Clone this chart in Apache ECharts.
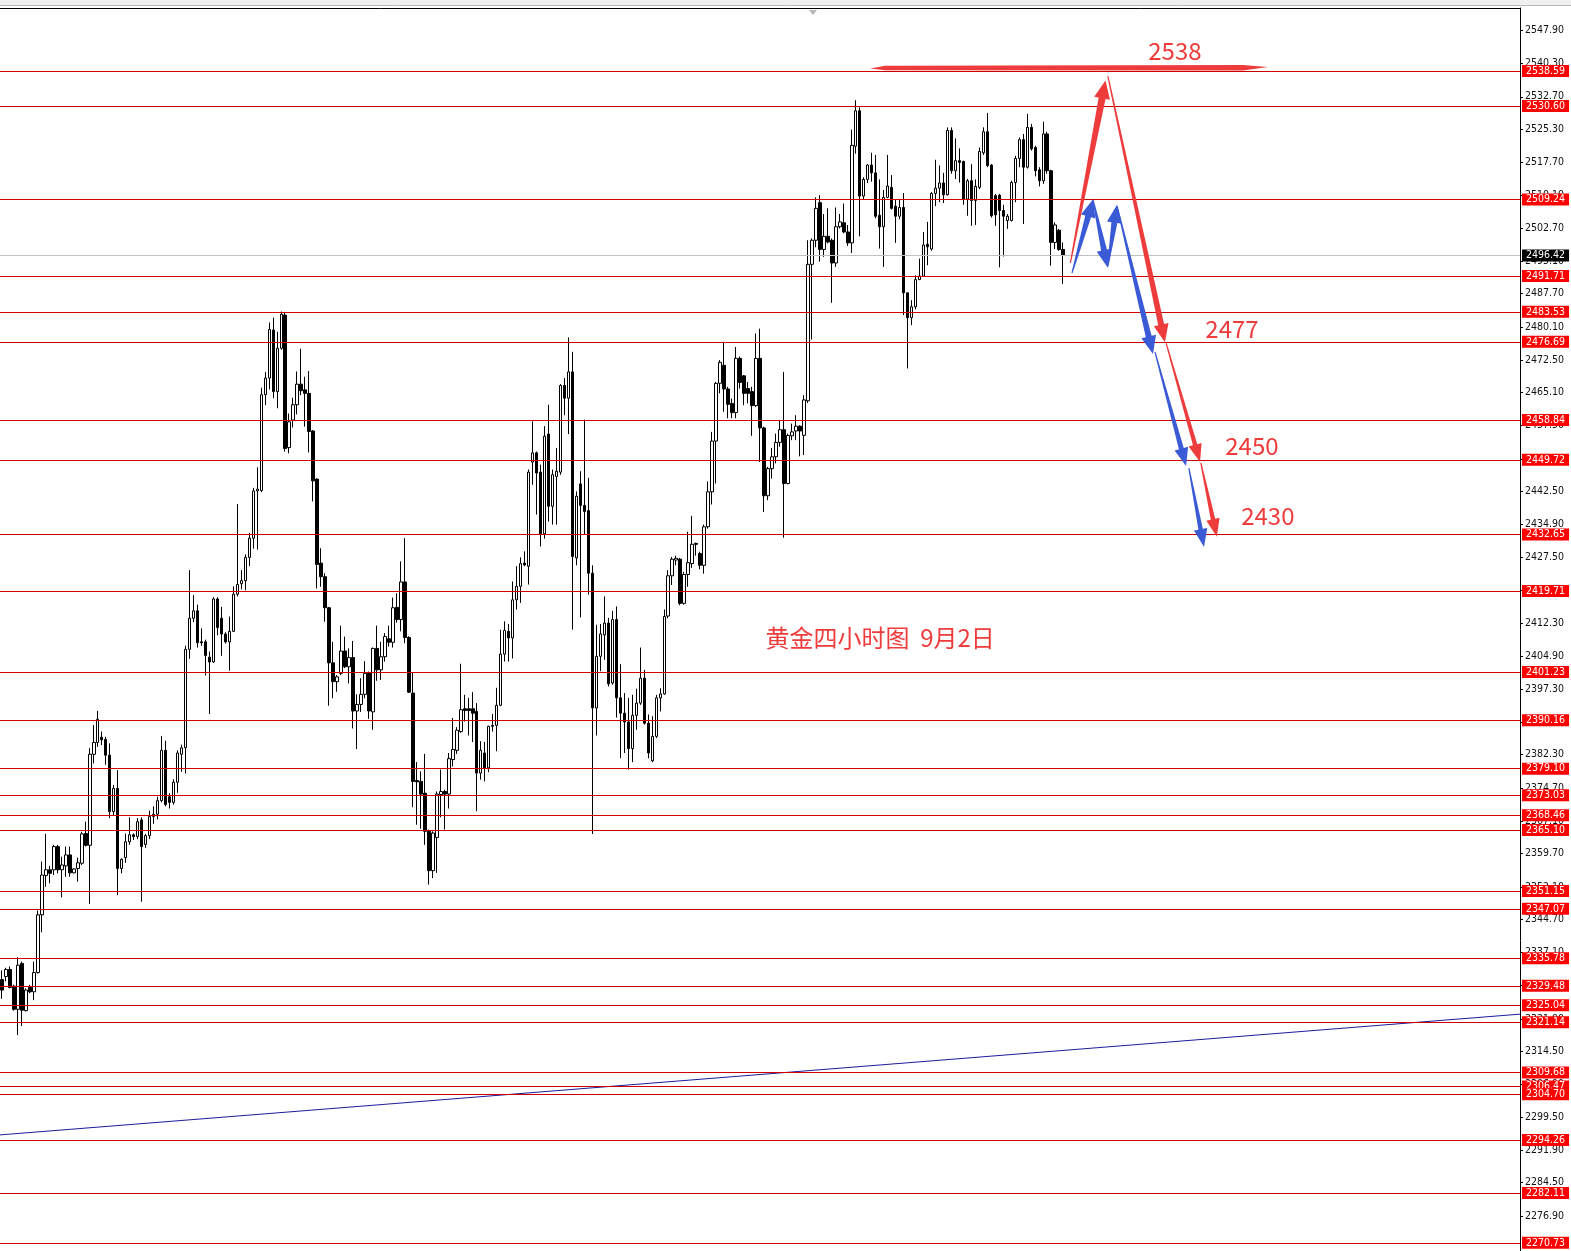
<!DOCTYPE html>
<html>
<head>
<meta charset="utf-8">
<script src="https://cdn.jsdelivr.net/npm/echarts@6/dist/echarts.min.js"></script>
<style>
html,body{margin:0;padding:0;background:#fff;}
#chart{width:1571px;height:1251px;}
</style>
</head>
<body>
<div id="chart"></div>
<script>
// ---- candle data (4-hour gold) ----
const opens = [
2330.9,2331.6,2333.2,2329.4,2324.1,2334.6,2323.8,2329.1,2328.1,2332.5,
2345.7,2354.7,2356.0,2356.0,2361.3,2356.0,2356.9,2359.4,2355.3,2356.3,
2357.5,2364.3,2361.6,2382.4,2385.1,2386.3,2385.8,2382.2,2369.3,2374.6,
2356.3,2358.8,2362.4,2364.0,2363.6,2367.4,2361.8,2363.8,2368.2,2368.7,
2371.8,2383.3,2372.7,2371.4,2376.0,2382.4,2383.9,2406.4,2413.5,2415.2,
2408.1,2408.1,2404.6,2403.5,2417.9,2413.5,2409.9,2408.1,2410.5,2419.0,
2421.4,2422.1,2427.4,2431.8,2442.6,2442.7,2464.6,2468.4,2479.4,2465.3,
2475.2,2482.8,2452.5,2458.8,2462.3,2467.0,2465.7,2464.9,2456.3,2445.3,
2426.1,2423.0,2415.9,2403.3,2399.0,2400.9,2406.0,2402.4,2404.5,2392.3,
2393.8,2396.1,2400.9,2392.1,2406.6,2401.7,2404.7,2408.8,2408.0,2416.0,
2413.2,2421.8,2409.1,2396.4,2376.4,2376.2,2373.5,2364.8,2355.8,2363.4,
2373.2,2373.9,2373.3,2381.2,2383.3,2387.6,2392.8,2392.8,2392.8,2392.2,
2378.1,2382.7,2379.3,2389.0,2389.0,2393.6,2405.3,2410.5,2409.0,2417.7,
2420.8,2426.1,2425.4,2449.2,2451.3,2446.9,2432.8,2455.6,2439.1,2445.9,
2446.9,2466.7,2463.8,2469.8,2427.3,2444.2,2439.3,2438.1,2423.8,2393.0,
2404.8,2409.7,2412.4,2398.7,2413.2,2395.3,2391.8,2389.8,2383.7,2391.3,
2394.1,2399.8,2389.5,2380.9,2386.5,2395.3,2396.2,2414.0,2423.2,2426.8,
2427.0,2416.9,2423.5,2426.0,2430.6,2428.3,2425.6,2434.4,2442.4,2454.0,
2467.2,2471.3,2465.9,2462.6,2460.5,2472.9,2468.9,2466.0,2465.3,2462.1,
2472.9,2457.0,2441.5,2447.7,2450.4,2453.7,2456.6,2444.3,2455.2,2456.3,
2457.4,2455.3,2463.2,2494.4,2499.9,2508.5,2497.8,2500.8,2499.9,2494.7,
2503.0,2503.9,2501.8,2499.3,2521.4,2529.5,2510.0,2513.8,2517.1,2515.3,
2505.6,2503.0,2509.7,2512.0,2507.7,2505.4,2507.4,2487.9,2482.2,2484.7,
2490.9,2491.7,2499.0,2497.9,2510.6,2511.8,2513.0,2510.3,2525.0,2515.8,
2518.1,2517.9,2509.3,2513.5,2509.0,2512.0,2519.9,2524.7,2517.1,2510.1,
2510.2,2506.7,2504.4,2504.4,2513.1,2518.6,2522.9,2516.6,2525.7,2521.1,
2516.0,2513.5,2524.2,2515.8,2499.4,2502.2,2497.8
];
const highs = [
2333.0,2333.6,2333.9,2329.7,2336.0,2335.0,2328.9,2329.7,2335.0,2346.7,
2357.9,2364.2,2356.9,2361.7,2361.7,2359.0,2361.3,2361.3,2356.3,2358.8,
2364.7,2367.0,2383.8,2389.1,2392.3,2387.6,2386.4,2384.9,2375.4,2378.8,
2358.6,2364.3,2368.0,2364.3,2367.8,2368.0,2364.2,2369.5,2370.5,2372.7,
2386.6,2385.5,2373.5,2376.7,2383.3,2384.6,2407.2,2424.5,2418.8,2416.6,
2411.2,2408.6,2405.9,2418.3,2418.3,2416.1,2410.3,2413.9,2420.8,2439.6,
2424.5,2428.1,2433.0,2443.3,2448.0,2466.2,2469.8,2481.1,2482.2,2479.0,
2483.6,2483.4,2460.3,2463.9,2469.9,2475.1,2468.7,2470.0,2456.5,2445.5,
2429.5,2423.8,2416.1,2408.1,2400.5,2411.8,2409.3,2406.6,2408.3,2396.1,
2399.8,2403.7,2401.3,2406.8,2411.8,2408.1,2410.1,2411.8,2418.2,2419.2,
2426.5,2431.8,2409.4,2401.0,2380.6,2378.5,2382.5,2365.2,2364.8,2373.9,
2378.9,2374.3,2382.7,2390.7,2388.6,2403.1,2396.0,2395.3,2396.6,2394.1,
2385.4,2385.2,2388.9,2391.6,2397.6,2410.9,2412.8,2412.2,2421.9,2425.4,
2427.4,2428.8,2447.5,2458.5,2451.6,2448.6,2457.4,2462.3,2447.5,2452.4,
2467.0,2468.4,2477.7,2474.4,2442.5,2447.1,2458.9,2445.6,2425.6,2412.0,
2412.2,2418.5,2413.6,2415.2,2416.2,2403.0,2396.4,2395.3,2396.0,2397.4,
2406.8,2401.7,2391.5,2391.1,2396.0,2397.5,2415.5,2424.5,2427.5,2427.8,
2427.3,2424.1,2433.3,2436.9,2430.8,2428.7,2434.9,2444.8,2456.1,2467.5,
2472.5,2476.7,2466.4,2463.7,2475.5,2473.3,2469.1,2467.5,2466.4,2478.6,
2479.7,2457.3,2448.1,2452.4,2455.7,2458.8,2469.8,2455.7,2458.0,2459.9,
2457.6,2464.5,2499.9,2500.3,2509.7,2510.2,2505.9,2507.2,2500.3,2507.4,
2505.9,2508.3,2503.4,2525.2,2531.9,2530.3,2514.3,2517.3,2519.9,2519.4,
2513.8,2511.4,2519.4,2514.8,2509.2,2509.2,2510.7,2487.9,2486.2,2491.9,
2495.7,2501.8,2504.1,2510.9,2518.3,2517.0,2515.3,2525.7,2525.7,2523.2,
2520.9,2518.1,2513.9,2517.3,2513.8,2521.1,2525.7,2529.0,2517.3,2510.5,
2510.5,2508.0,2505.9,2513.5,2519.2,2523.4,2524.2,2528.8,2526.5,2521.5,
2516.6,2527.0,2524.7,2516.0,2504.0,2502.5,2499.4
];
const lows = [
2326.5,2330.5,2328.9,2323.8,2318.2,2320.3,2323.6,2327.8,2326.2,2332.3,
2341.7,2352.1,2352.9,2354.8,2355.2,2349.7,2354.4,2354.4,2355.2,2353.3,
2357.1,2361.3,2348.2,2380.3,2384.1,2384.5,2380.0,2367.8,2368.5,2350.2,
2355.2,2357.6,2361.7,2362.8,2363.0,2348.7,2361.0,2363.0,2366.5,2367.5,
2371.4,2370.5,2370.0,2370.9,2373.6,2378.4,2378.0,2404.2,2412.6,2406.8,
2407.2,2400.4,2391.6,2403.3,2409.6,2404.9,2407.7,2401.5,2410.4,2418.5,
2420.1,2419.9,2425.4,2429.4,2429.2,2442.3,2462.2,2465.8,2463.8,2461.5,
2474.9,2451.6,2451.2,2457.1,2460.1,2464.5,2457.3,2451.4,2440.2,2420.3,
2420.7,2412.7,2393.5,2395.2,2396.7,2400.5,2402.1,2398.6,2388.3,2383.6,
2392.1,2395.2,2390.5,2388.0,2399.2,2399.4,2403.6,2407.0,2406.8,2412.5,
2410.5,2407.8,2396.4,2370.3,2366.3,2365.4,2361.7,2352.6,2354.1,2355.3,
2368.0,2365.2,2370.0,2379.6,2382.5,2387.3,2389.9,2386.7,2385.2,2369.4,
2376.6,2376.2,2378.3,2387.6,2383.1,2393.4,2403.6,2403.6,2404.3,2415.5,
2417.0,2425.4,2421.2,2444.0,2437.2,2429.9,2431.7,2435.6,2434.9,2434.9,
2446.3,2459.9,2455.6,2410.9,2425.6,2413.7,2432.6,2418.9,2364.2,2386.7,
2401.4,2404.0,2397.9,2398.3,2390.8,2381.5,2382.7,2378.9,2380.6,2388.0,
2393.7,2389.2,2381.5,2380.6,2386.1,2392.2,2396.0,2413.5,2421.1,2425.6,
2416.5,2416.6,2420.7,2425.0,2427.8,2424.7,2423.7,2434.0,2439.5,2444.3,
2464.9,2460.7,2459.2,2459.2,2459.2,2466.0,2462.2,2462.6,2455.2,2461.8,
2449.2,2437.8,2440.5,2445.4,2448.9,2452.7,2431.9,2444.1,2454.2,2454.2,
2450.5,2450.8,2462.7,2477.2,2498.3,2495.0,2496.1,2499.2,2485.6,2493.8,
2502.6,2501.5,2498.6,2497.0,2519.7,2500.8,2509.2,2513.0,2513.3,2504.9,
2498.0,2493.8,2509.5,2506.9,2499.3,2504.7,2482.8,2470.6,2480.5,2484.1,
2490.8,2491.5,2494.2,2497.5,2507.7,2508.6,2508.4,2510.1,2515.1,2513.9,
2513.1,2508.0,2505.5,2503.2,2503.4,2511.6,2519.4,2516.6,2505.1,2503.2,
2493.7,2496.2,2502.5,2504.2,2508.6,2516.6,2503.6,2516.3,2520.4,2514.5,
2512.2,2512.8,2515.1,2494.1,2497.9,2497.5,2489.9
];
const closes = [
2328.5,2333.2,2329.1,2324.1,2334.2,2323.9,2328.5,2328.1,2332.5,2345.7,
2354.8,2356.0,2355.2,2361.3,2356.0,2357.1,2359.4,2355.3,2356.2,2357.6,
2364.2,2361.6,2382.4,2385.1,2390.4,2385.7,2382.2,2369.3,2374.6,2356.3,
2358.4,2362.4,2364.0,2363.6,2367.0,2361.3,2363.8,2368.2,2368.7,2371.8,
2383.3,2370.9,2371.4,2376.0,2382.7,2383.9,2406.4,2413.5,2415.2,2407.9,
2407.9,2405.0,2403.5,2417.9,2411.4,2409.9,2408.1,2410.5,2419.0,2421.2,
2422.1,2427.4,2431.8,2442.6,2443.0,2464.6,2468.4,2479.5,2465.3,2475.2,
2483.0,2452.3,2458.4,2462.3,2467.0,2465.5,2464.9,2456.2,2444.9,2425.8,
2423.0,2415.9,2403.3,2399.0,2400.1,2406.0,2402.4,2404.5,2392.3,2393.8,
2396.1,2400.9,2392.3,2406.6,2401.7,2404.7,2409.3,2408.0,2415.9,2413.2,
2421.8,2409.1,2396.6,2376.2,2376.1,2373.3,2364.8,2355.8,2364.4,2373.3,
2373.9,2373.3,2381.4,2383.5,2387.9,2392.6,2392.4,2392.4,2391.8,2378.1,
2383.3,2379.3,2388.8,2388.8,2393.6,2405.3,2410.7,2409.0,2417.7,2420.8,
2426.0,2425.7,2446.9,2451.3,2446.7,2432.8,2455.1,2439.1,2446.3,2447.1,
2466.7,2463.8,2469.8,2427.6,2441.4,2439.3,2437.9,2423.8,2393.0,2404.8,
2409.9,2412.4,2398.5,2413.2,2395.3,2391.8,2389.8,2383.7,2391.3,2394.1,
2399.8,2389.5,2382.7,2386.5,2395.3,2396.2,2413.9,2423.2,2427.0,2427.2,
2416.9,2423.5,2426.2,2430.4,2430.4,2425.6,2434.4,2442.4,2454.0,2467.2,
2472.0,2465.9,2462.4,2460.5,2472.9,2467.4,2464.9,2464.9,2462.1,2472.9,
2457.0,2441.5,2447.7,2450.4,2453.7,2456.6,2444.3,2455.3,2456.1,2457.4,
2456.3,2463.4,2494.4,2499.9,2507.2,2497.8,2500.8,2499.5,2494.7,2503.0,
2504.1,2501.8,2499.3,2521.6,2529.5,2510.0,2513.8,2517.1,2515.3,2505.4,
2503.0,2509.7,2512.3,2507.2,2505.4,2507.4,2487.9,2482.2,2484.7,2490.9,
2491.7,2498.8,2498.4,2510.6,2511.8,2513.0,2510.3,2525.0,2515.8,2518.1,
2517.7,2509.3,2513.5,2509.0,2512.2,2520.2,2524.7,2517.0,2505.5,2505.7,
2506.7,2505.4,2505.4,2513.1,2518.6,2522.9,2516.6,2525.7,2520.8,2515.8,
2513.5,2524.2,2515.8,2499.4,2503.4,2497.8,2496.42
];

// number of bar slots on the chart (candles + empty space to the right)
const slotCount = 381;

// ---- price levels ----
const levelLines = [2538.59,2530.60,2509.24,2491.71,2483.53,2476.69,2458.84,2449.72,2432.65,
  2419.71,2401.23,2390.16,2379.10,2373.03,2368.46,2365.10,2351.15,2347.07,2335.78,2329.48,
  2325.04,2321.14,2309.68,2306.47,2304.70,2294.26,2282.11,2270.73];
const currentPrice = 2496.42;

// ---- y axis tick labels ----
const yTicks = [2547.90,2540.30,2532.70,2525.30,2517.70,2510.10,2502.70,2495.10,2487.70,2480.10,
  2472.50,2465.10,2457.50,2449.90,2442.50,2434.90,2427.50,2419.90,2412.30,2404.90,2397.30,
  2389.70,2382.30,2374.70,2367.10,2359.70,2352.10,2344.70,2337.10,2329.50,2321.90,2314.50,
  2306.90,2299.50,2291.90,2284.50,2276.90];
const yMin = 2268.86, yMax = 2552.99;

// ---- trend line (slot position, price) ----
const trendLine = [[-0.5, 2295.4], [380.5, 2323.0]];

// ---- drawn annotations (slot position, price) ----
const redArrowFrom = [[267.8, 2494.7], [277.2, 2537.4], [291.8, 2476.4], [300.5, 2449.0]];
const redArrowTo   = [[276.6, 2536.4], [291.5, 2476.6], [300.3, 2449.2], [304.5, 2432.1]];
const redArrowWidth = [7, 6, 4.5, 4.5];
const blueArrowFrom = [[268.2, 2492.4], [273.5, 2509.1], [277.2, 2494.0], [279.5, 2507.7], [289.0, 2474.4], [297.5, 2447.8]];
const blueArrowTo   = [[273.5, 2509.3], [277.2, 2493.6], [279.5, 2508.0], [288.5, 2473.9], [296.8, 2448.3], [301.3, 2429.8]];
const blueArrowWidth = [6, 6, 6, 6, 5, 4.5];
const brushLine = [217.6, 317.3, 2539.3];

const noteTexts = ['2538', '2477', '2450', '2430', '黄金四小时图  9月2日'];
const noteX = [294.0, 308.3, 313.3, 317.3, 220.1];
const noteY = [2543.2, 2479.6, 2452.9, 2436.9, 2409.0];

const RED = '#ee3b3b', BLUE = '#3a5ad6';
const AXIS_FONT = '"Liberation Sans Narrow", "DejaVu Sans Condensed", "Liberation Sans", sans-serif';

// ---- build ----
const categories = Array.from({length: slotCount}, (_, i) => 'B' + i);
const candleData = categories.map((_, i) =>
  i < opens.length ? [opens[i], closes[i], lows[i], highs[i]] : '-');

const markData = levelLines.map(v => ({ yAxis: v }));
markData.push({
  yAxis: currentPrice,
  lineStyle: { color: '#c0c0c0', width: 1, type: 'solid' },
  label: { backgroundColor: '#000000', color: '#ffffff' }
});

const arrowItems = [];
redArrowFrom.forEach((p, i) => arrowItems.push([p[0], p[1], redArrowTo[i][0], redArrowTo[i][1], redArrowWidth[i], 0]));
blueArrowFrom.forEach((p, i) => arrowItems.push([p[0], p[1], blueArrowTo[i][0], blueArrowTo[i][1], blueArrowWidth[i], 1]));

function arrowRender(params, api) {
  const p0 = api.coord([api.value(0), api.value(1)]);
  const p1 = api.coord([api.value(2), api.value(3)]);
  const w = api.value(4);
  const color = api.value(5) === 0 ? RED : BLUE;
  const dx = p1[0] - p0[0], dy = p1[1] - p0[1];
  const len = Math.hypot(dx, dy);
  const ux = dx / len, uy = dy / len, nx = -uy, ny = ux;
  const hl = Math.min(18, len * 0.45), hh = w / 2 + 4.5;
  const bx = p1[0] - ux * hl, by = p1[1] - uy * hl;
  const w0 = 0.6, w1 = w / 2;
  const pts = [
    [p0[0] + nx * w0, p0[1] + ny * w0],
    [bx + nx * w1, by + ny * w1],
    [bx + nx * hh, by + ny * hh],
    [p1[0], p1[1]],
    [bx - nx * hh, by - ny * hh],
    [bx - nx * w1, by - ny * w1],
    [p0[0] - nx * w0, p0[1] - ny * w0]
  ];
  return { type: 'polygon', shape: { points: pts }, style: { fill: color } };
}

function brushRender(params, api) {
  const a = api.coord([api.value(0), api.value(2)]);
  const b = api.coord([api.value(1), api.value(2)]);
  const y = a[1], x0 = a[0], x1 = b[0];
  const pts = [[x0, y + 0.5], [x0 + 15, y - 2.2], [x1 - 25, y - 2.8], [x1, y - 0.8], [x1 - 25, y + 2.6], [x0 + 15, y + 2.4]];
  return { type: 'polygon', shape: { points: pts }, style: { fill: RED } };
}

function noteRender(params, api) {
  const p = api.coord([api.value(0), api.value(1)]);
  return {
    type: 'text', x: p[0], y: p[1],
    style: { text: noteTexts[params.dataIndex], fill: RED, fontSize: 24,
      fontFamily: '"Noto Sans CJK SC", sans-serif', align: 'center', verticalAlign: 'middle' }
  };
}

const chart = echarts.init(document.getElementById('chart'), null, { renderer: 'canvas' });
chart.setOption({
  animation: false,
  backgroundColor: '#ffffff',
  graphic: [
    { type: 'rect', shape: { x: 0, y: 0, width: 1571, height: 5 }, style: { fill: '#f0f0f0' }, silent: true },
    { type: 'line', shape: { x1: 0, y1: 5.5, x2: 1571, y2: 5.5 }, style: { stroke: '#b9b9b9', lineWidth: 1 }, silent: true },
    { type: 'polygon', shape: { points: [[809, 10], [817, 10], [813, 15]] }, style: { fill: '#b8b8b8' }, silent: true }
  ],
  grid: { left: 0, right: 51, top: 8, bottom: 0, show: false },
  xAxis: [
    { type: 'category', data: categories, show: false, boundaryGap: true },
    { type: 'value', min: -0.5, max: slotCount - 0.5, position: 'top',
      axisLine: { show: true, onZero: false, lineStyle: { color: '#000', width: 1 } },
      axisTick: { show: false }, axisLabel: { show: false }, splitLine: { show: false } }
  ],
  yAxis: {
    type: 'value', position: 'right', min: yMin, max: yMax, scale: true,
    axisLine: { show: true, onZero: false, lineStyle: { color: '#000', width: 1 } },
    axisTick: { show: true, length: 3, customValues: yTicks, lineStyle: { color: '#000' } },
    axisLabel: { show: true, customValues: yTicks, margin: 5, fontSize: 10.5,
      fontFamily: AXIS_FONT, color: '#111',
      formatter: v => Number(v).toFixed(2) },
    splitLine: { show: false }
  },
  series: [
    {
      type: 'candlestick', xAxisIndex: 0, yAxisIndex: 0,
      data: candleData, barWidth: 3,
      itemStyle: { color: '#ffffff', color0: '#000000', borderColor: '#000000', borderColor0: '#000000', borderWidth: 1 },
      markLine: {
        silent: true, symbol: ['none', 'none'], animation: false, precision: 2,
        lineStyle: { color: '#cc0000', width: 1, type: 'solid' },
        label: { show: true, position: 'end', distance: 2, color: '#ffffff', backgroundColor: '#ff0000',
          fontSize: 10.5, fontFamily: AXIS_FONT, padding: [1, 4, 0, 4], lineHeight: 11,
          formatter: p => Number(p.value).toFixed(2) },
        emphasis: { disabled: true },
        data: markData
      },
      z: 3
    },
    {
      type: 'line', xAxisIndex: 1, yAxisIndex: 0, data: trendLine, symbol: 'none',
      lineStyle: { color: '#1c1c9e', width: 1 }, silent: true, z: 2
    },
    {
      type: 'custom', xAxisIndex: 1, yAxisIndex: 0, renderItem: brushRender,
      data: [brushLine], silent: true, z: 5
    },
    {
      type: 'custom', xAxisIndex: 1, yAxisIndex: 0, renderItem: arrowRender,
      data: arrowItems, silent: true, z: 6
    },
    {
      type: 'custom', xAxisIndex: 1, yAxisIndex: 0, renderItem: noteRender,
      data: noteX.map((x, i) => [x, noteY[i]]), silent: true, z: 7
    }
  ]
});
</script>
</body>
</html>
